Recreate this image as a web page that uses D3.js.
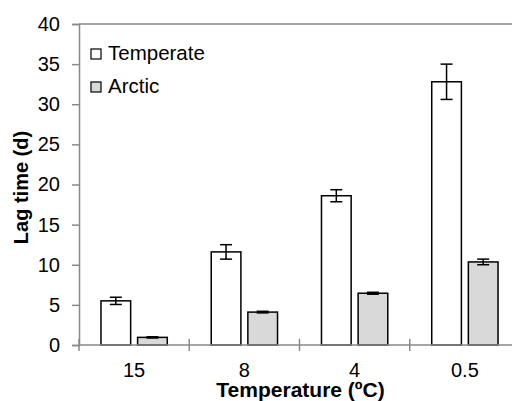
<!DOCTYPE html>
<html>
<head>
<meta charset="utf-8">
<script src="https://cdn.jsdelivr.net/npm/d3@7"></script>
<style>
  body { margin: 0; background: #fff; }
  svg { display: block; font-family: "Liberation Sans", Arial, sans-serif; }
</style>
</head>
<body>
<svg id="chart" width="512" height="401"></svg>
<script>
// Chart data
const categories = ['15', '8', '4', '0.5'];
const seriesNames = ['Temperate', 'Arctic'];
const temperate = [5.5, 11.6, 18.6, 32.8];
const temperateErr = [0.45, 0.9, 0.75, 2.2];
const arctic = [0.95, 4.1, 6.45, 10.35];
const arcticErr = [0.08, 0.1, 0.12, 0.35];
const yTicks = [0, 5, 10, 15, 20, 25, 30, 35, 40];

// Layout
const layout = { left: 79, right: 520, top: 24, bottom: 345 };
const axisColor = '#898989';
const fills = { Temperate: '#ffffff', Arctic: '#d9d9d9' };

const svg = d3.select('#chart');

// Scales
const x = d3.scaleBand().domain(categories).range([layout.left, layout.right]);
const xInner = d3.scaleBand().domain(seriesNames).range([0, x.bandwidth()])
  .paddingInner(0.19).paddingOuter(0.6);
const y = d3.scaleLinear().domain([0, 40]).range([layout.bottom, layout.top]);

// Top line at 40
svg.append('line')
  .attr('x1', layout.left).attr('x2', 512)
  .attr('y1', y(40)).attr('y2', y(40))
  .attr('stroke', axisColor).attr('stroke-width', 1.5);

// Y axis
const yAxis = svg.append('g')
  .attr('transform', `translate(${layout.left},0)`)
  .call(d3.axisLeft(y).tickValues(yTicks).tickSize(7).tickPadding(12));
yAxis.select('.domain').attr('stroke', axisColor).attr('stroke-width', 1.5);
yAxis.selectAll('.tick line').attr('stroke', axisColor).attr('stroke-width', 1.5);
yAxis.selectAll('.tick text').attr('font-size', 20).attr('fill', '#000')
  .attr('font-family', '"Liberation Sans", Arial, sans-serif');

// Series data rows
const rows = categories.map((c, i) => ({
  cat: c,
  values: [
    { name: 'Temperate', value: temperate[i], err: temperateErr[i] },
    { name: 'Arctic', value: arctic[i], err: arcticErr[i] },
  ],
}));

const groups = svg.append('g').selectAll('g')
  .data(rows).join('g')
  .attr('transform', d => `translate(${x(d.cat)},0)`);

// Bars
groups.selectAll('rect')
  .data(d => d.values).join('rect')
  .attr('x', d => xInner(d.name))
  .attr('y', d => y(d.value))
  .attr('width', xInner.bandwidth())
  .attr('height', d => y(0) - y(d.value))
  .attr('fill', d => fills[d.name])
  .attr('stroke', '#000')
  .attr('stroke-width', 1.5);

// Error bars
const capHalf = 6;
const err = groups.selectAll('g.err')
  .data(d => d.values).join('g').attr('class', 'err')
  .attr('stroke', '#000').attr('stroke-width', 1.5);
err.append('line')
  .attr('x1', d => xInner(d.name) + xInner.bandwidth() / 2)
  .attr('x2', d => xInner(d.name) + xInner.bandwidth() / 2)
  .attr('y1', d => y(d.value + d.err))
  .attr('y2', d => y(d.value - d.err));
[1, -1].forEach(s => {
  err.append('line')
    .attr('x1', d => xInner(d.name) + xInner.bandwidth() / 2 - capHalf)
    .attr('x2', d => xInner(d.name) + xInner.bandwidth() / 2 + capHalf)
    .attr('y1', d => y(d.value + s * d.err))
    .attr('y2', d => y(d.value + s * d.err));
});

// X axis: ticks at category boundaries
svg.append('line')
  .attr('x1', layout.left).attr('x2', 512)
  .attr('y1', y(0)).attr('y2', y(0))
  .attr('stroke', axisColor).attr('stroke-width', 1.5);
svg.append('g').selectAll('line')
  .data(categories.map(c => x(c)).concat([layout.right]))
  .join('line')
  .attr('x1', d => d).attr('x2', d => d)
  .attr('y1', y(0) - 6).attr('y2', y(0) + 6)
  .attr('stroke', axisColor).attr('stroke-width', 1.5);
svg.append('g').selectAll('text')
  .data(categories).join('text')
  .attr('x', d => x(d) + x.bandwidth() / 2)
  .attr('y', 377)
  .attr('text-anchor', 'middle')
  .attr('font-size', 20)
  .text(d => d);

// Axis titles
svg.append('text')
  .attr('x', 300.5).attr('y', 397)
  .attr('text-anchor', 'middle')
  .attr('font-size', 21).attr('font-weight', 'bold')
  .text('Temperature (ºC)');
svg.append('text')
  .attr('transform', 'translate(28,187.5) rotate(-90)')
  .attr('text-anchor', 'middle')
  .attr('font-size', 20).attr('font-weight', 'bold')
  .text('Lag time (d)');

// Legend
const legend = svg.append('g').selectAll('g')
  .data(seriesNames).join('g')
  .attr('transform', (d, i) => `translate(91,${49 + i * 33})`);
legend.append('rect')
  .attr('width', 10).attr('height', 10)
  .attr('fill', d => fills[d])
  .attr('stroke', '#000').attr('stroke-width', 1.2);
legend.append('text')
  .attr('x', 17).attr('y', 11)
  .attr('font-size', 20.5)
  .text(d => d);
</script>
</body>
</html>
